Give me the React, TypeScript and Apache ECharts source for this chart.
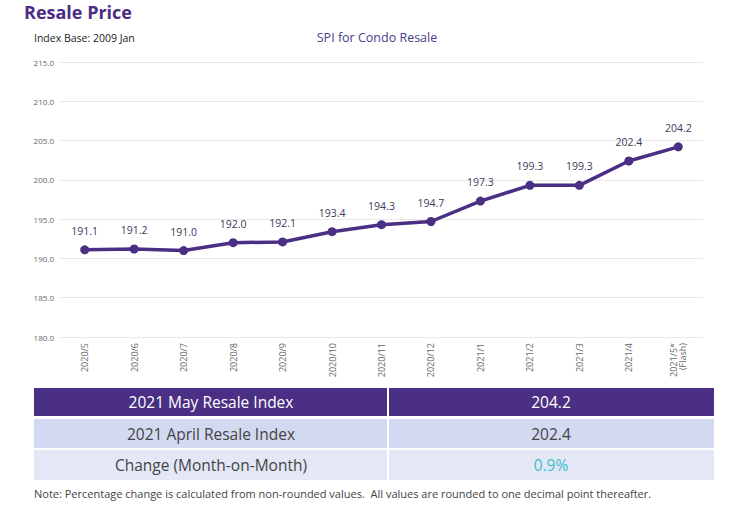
import React, { useEffect, useRef } from "react";
import * as echarts from "echarts";

const categories = ["2020/5", "2020/6", "2020/7", "2020/8", "2020/9", "2020/10", "2020/11", "2020/12", "2021/1", "2021/2", "2021/3", "2021/4", "2021/5*\n(Flash)"];
const spiValues = [191.1, 191.2, 191.0, 192.0, 192.1, 193.4, 194.3, 194.7, 197.3, 199.3, 199.3, 202.4, 204.2];
const tableLabels = ["2021 May Resale Index", "2021 April Resale Index", "Change (Month-on-Month)"];
const tableValues = ["204.2", "202.4", "0.9%"];

const FONT = "'Open Sans', 'Noto Sans', sans-serif";

export default function App() {
  const ref = useRef<HTMLDivElement>(null);
  useEffect(() => {
    if (!ref.current) return;
    const chart = echarts.init(ref.current, undefined, { renderer: "svg" });
    const rowTops = [388, 419, 450];
    const rowH = [28, 29, 30];
    const rowFill = ["#4a2f85", "#d3d9f1", "#e3e7f6"];
    const labelColor = ["#ffffff", "#444444", "#444444"];
    const valueColor = ["#ffffff", "#444444", "#3cbfc9"];
    const tableEls: any[] = [];
    tableLabels.forEach((lab, i) => {
      tableEls.push({ type: "rect", shape: { x: 34, y: rowTops[i], width: 353, height: rowH[i] }, style: { fill: rowFill[i] } });
      tableEls.push({ type: "rect", shape: { x: 389, y: rowTops[i], width: 325, height: rowH[i] }, style: { fill: rowFill[i] } });
      tableEls.push({ type: "text", x: 211, y: rowTops[i] + rowH[i] / 2, style: { text: lab, fill: labelColor[i], font: `15.5px ${FONT}`, align: "center", verticalAlign: "middle" } });
      tableEls.push({ type: "text", x: 551, y: rowTops[i] + rowH[i] / 2, style: { text: tableValues[i], fill: valueColor[i], font: `15.5px ${FONT}`, align: "center", verticalAlign: "middle" } });
    });
    chart.setOption({
      animation: false,
      backgroundColor: "#ffffff",
      textStyle: { fontFamily: FONT },
      grid: { left: 60, right: 47, top: 62, bottom: 170 },
      xAxis: {
        type: "category",
        data: categories,
        axisLine: { show: false },
        axisTick: { show: false },
        axisLabel: { rotate: 90, fontSize: 9, color: "#666", margin: 6, lineHeight: 9, interval: 0 },
      },
      yAxis: {
        type: "value",
        min: 180,
        max: 215,
        interval: 5,
        axisLabel: { fontSize: 8, color: "#666", margin: 6, formatter: (v: number) => v.toFixed(1) },
        splitLine: { lineStyle: { color: "#e8e8e8" } },
        axisLine: { show: false },
        axisTick: { show: false },
      },
      series: [
        {
          type: "line",
          data: spiValues,
          symbol: "circle",
          symbolSize: 9,
          lineStyle: { color: "#4a2f85", width: 3.5 },
          itemStyle: { color: "#4a2f85" },
          label: { show: true, position: "top", distance: 9, fontSize: 10.5, color: "#3d3a5c", formatter: (p: any) => p.value.toFixed(1) },
        },
      ],
      graphic: [
        { type: "text", left: 24, top: 3, style: { text: "Resale Price", fill: "#4b2c85", font: `bold 18px ${FONT}` } },
        { type: "text", x: 34, y: 38, style: { text: "Index Base: 2009 Jan", fill: "#222", font: `10.5px ${FONT}`, verticalAlign: "middle" } },
        { type: "text", x: 377, y: 37, style: { text: "SPI for Condo Resale", fill: "#4b3c8c", font: `12.5px ${FONT}`, align: "center", verticalAlign: "middle" } },
        ...tableEls,
        { type: "text", x: 34, y: 493, style: { text: "Note: Percentage change is calculated from non-rounded values.  All values are rounded to one decimal point thereafter.", fill: "#444", font: `11px ${FONT}`, verticalAlign: "middle" } },
      ],
    });
    return () => chart.dispose();
  }, []);
  return <div ref={ref} style={{ width: 750, height: 507, position: "absolute", left: 0, top: 0 }} />;
}
